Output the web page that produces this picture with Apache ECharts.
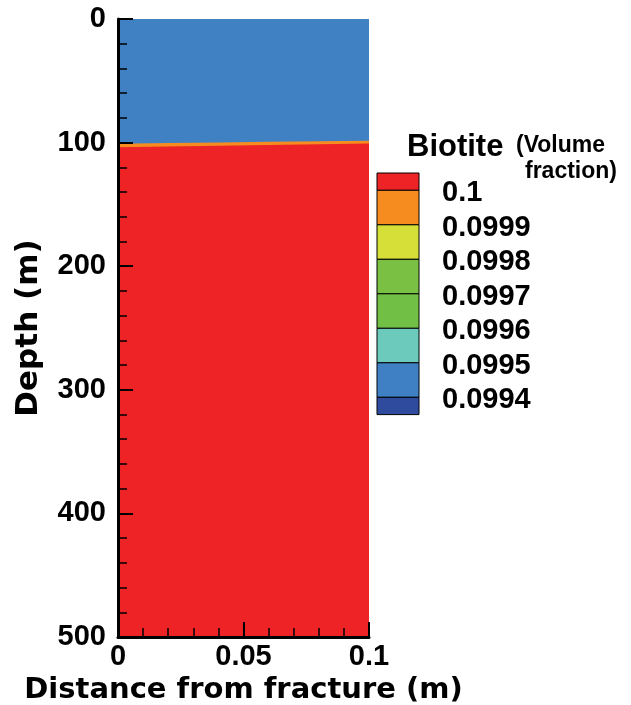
<!DOCTYPE html>
<html>
<head>
<meta charset="utf-8">
<script src="https://cdn.jsdelivr.net/npm/echarts@6/dist/echarts.min.js"></script>
<style>
html,body{margin:0;padding:0;background:#fff;}
#c{width:631px;height:705px;}
</style>
</head>
<body>
<div id="c"></div>
<script>
// Distance from fracture (m) sample positions
var xs = [0, 0.02, 0.04, 0.06, 0.08, 0.1];
// Depth (m) of bottom of blue zone (0.0995 level)
var blueDepth = [101.0, 100.4, 99.9, 99.4, 98.9, 98.5];
// Depth (m) of bottom of orange transition zone (0.0999 level)
var orangeDepth = [103.8, 103.1, 102.5, 101.9, 101.3, 100.8];
// Domain bottom depth
var domainDepth = [500, 500, 500, 500, 500, 500];

var yTicks = [0, 100, 200, 300, 400, 500];
var xTicks = [0, 0.05, 0.1];

var legendLabels = ['0.1', '0.0999', '0.0998', '0.0997', '0.0996', '0.0995', '0.0994'];
var legendColors = ['#ee2325', '#f68b1f', '#d5df37', '#7ac143', '#71bf45', '#6ccabd', '#3f80c4', '#2e4b9e'];

var RED = '#ee2325', ORANGE = '#f68b1f', BLUE = '#4081c4';
var TITLE_FONT = 'DejaVu Sans';
var FONT = 'Liberation Sans';

function pts(ys) { return xs.map(function (x, i) { return [x, ys[i]]; }); }

var chart = echarts.init(document.getElementById('c'), null, {renderer: 'canvas'});

// Legend graphic built from arrays
var graphic = [];
var lx = 377, ly = 173, lw = 42, full = 34.5, half = 17.3;
var y = ly;
var bounds = [];
for (var i = 0; i < legendColors.length; i++) {
  var h = (i === 0 || i === legendColors.length - 1) ? half : full;
  graphic.push({type: 'rect', x: lx, y: y, shape: {width: lw, height: h},
    style: {fill: legendColors[i], stroke: '#000', lineWidth: 1}, z: 100});
  y += h;
  if (i < legendColors.length - 1) bounds.push(y);
}
legendLabels.forEach(function (t, i) {
  graphic.push({type: 'text', x: 442, y: bounds[i] + 3,
    style: {text: t, font: 'bold 29px "' + FONT + '"', fill: '#000', verticalAlign: 'middle', align: 'left'}, z: 100});
});
graphic.push({type: 'text', x: 407, y: 147,
  style: {text: 'Biotite', font: 'bold 31px "' + FONT + '"', fill: '#000', verticalAlign: 'middle', align: 'left'}, z: 100});
graphic.push({type: 'text', x: 516, y: 146,
  style: {text: '(Volume', font: 'bold 23px "' + FONT + '"', fill: '#000', verticalAlign: 'middle', align: 'left'}, z: 100});
graphic.push({type: 'text', x: 617, y: 172,
  style: {text: 'fraction)', font: 'bold 23px "' + FONT + '"', fill: '#000', verticalAlign: 'middle', align: 'right'}, z: 100});

var option = {
  backgroundColor: '#fff',
  animation: false,
  grid: {left: 118, top: 19, right: 262, bottom: 68, containLabel: false, outerBoundsMode: 'none'},
  xAxis: {
    type: 'value', min: xTicks[0], max: xTicks[xTicks.length - 1], interval: 0.05,
    z: 10,
    name: 'Distance from fracture (m)', nameLocation: 'middle', nameGap: 32,
    nameTextStyle: {fontFamily: TITLE_FONT, fontWeight: 'bold', fontSize: 29, color: '#000'},
    axisLine: {show: true, onZero: false, lineStyle: {color: '#000', width: 3}},
    axisTick: {show: true, inside: true, length: 15, lineStyle: {color: '#000', width: 2}},
    minorTick: {show: true, splitNumber: 5, length: 9, lineStyle: {color: '#000', width: 1.5}},
    axisLabel: {margin: 5, fontFamily: FONT, fontWeight: 'bold', fontSize: 29, color: '#000',
      formatter: function (v) { return String(+v.toFixed(2)); }},
    splitLine: {show: false}
  },
  yAxis: {
    type: 'value', inverse: true, min: yTicks[0], max: yTicks[yTicks.length - 1], interval: 100,
    z: 10,
    name: 'Depth (m)', nameLocation: 'middle', nameGap: 74,
    nameTextStyle: {fontFamily: TITLE_FONT, fontWeight: 'bold', fontSize: 31, color: '#000'},
    axisLine: {show: true, onZero: false, lineStyle: {color: '#000', width: 3}},
    axisTick: {show: true, inside: true, length: 15, lineStyle: {color: '#000', width: 2}},
    minorTick: {show: true, splitNumber: 5, length: 9, lineStyle: {color: '#000', width: 1.5}},
    axisLabel: {margin: 12, fontFamily: FONT, fontWeight: 'bold', fontSize: 29, color: '#000'},
    splitLine: {show: false}
  },
  series: [
    {type: 'line', data: pts(domainDepth), symbol: 'none', silent: true, z: 1,
      lineStyle: {width: 0}, areaStyle: {color: RED, opacity: 1}},
    {type: 'line', data: pts(orangeDepth), symbol: 'none', silent: true, z: 2,
      lineStyle: {width: 0}, areaStyle: {color: ORANGE, opacity: 1}},
    {type: 'line', data: pts(blueDepth), symbol: 'none', silent: true, z: 3,
      lineStyle: {width: 0}, areaStyle: {color: BLUE, opacity: 1}}
  ],
  graphic: graphic
};
chart.setOption(option);
</script>
</body>
</html>
